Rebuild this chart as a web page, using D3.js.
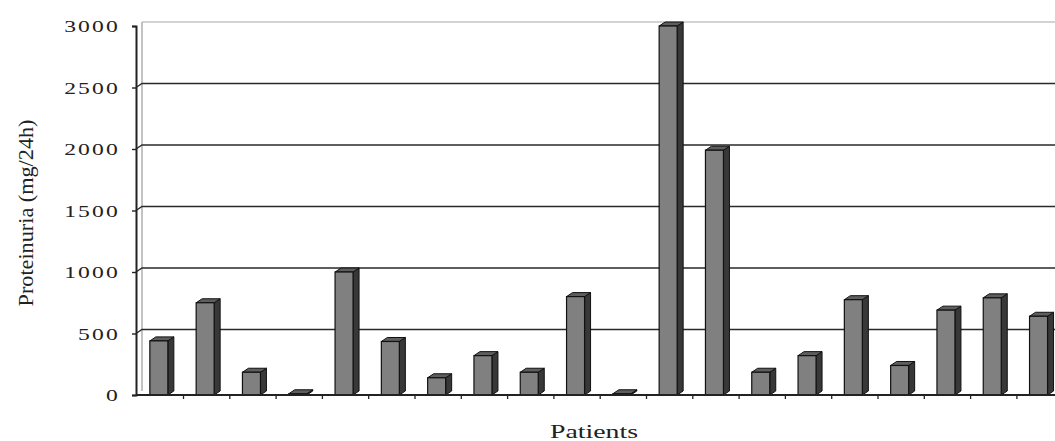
<!DOCTYPE html>
<html>
<head>
<meta charset="utf-8">
<script src="https://cdn.jsdelivr.net/npm/d3@7"></script>
<style>
  html, body { margin: 0; padding: 0; background: #fff; }
  svg { display: block; }
  text { font-family: "Liberation Serif", "Times New Roman", serif; fill: #222; }
</style>
</head>
<body>
<svg id="chart" width="1055" height="441"></svg>
<script>
// Proteinuria per patient (mg/24h)
const patients = ["P1","P2","P3","P4","P5","P6","P7","P8","P9","P10",
                  "P11","P12","P13","P14","P15","P16","P17","P18","P19","P20"];
const proteinuria = [440, 750, 185, 10, 1000, 435, 140, 320, 185, 800,
                     10, 3000, 1990, 185, 320, 775, 240, 690, 790, 640];
const yTicks = [0, 500, 1000, 1500, 2000, 2500, 3000];
const yTitle = "Proteinuria (mg/24h)";
const xTitle = "Patients";

const svg = d3.select("#chart");
const W = 1055;
const plotLeft = 136, plotBottom = 395, plotTop = 26;
const step = 46.3;
const depthX = 6, depthY = 4;   // oblique depth of the 3D look

const x = d3.scaleBand().domain(patients).range([plotLeft + 0.7, plotLeft + 0.7 + step * patients.length]).padding(0);
const xEdge = d3.scaleLinear().domain([0, patients.length]).range(x.range());
const y = d3.scaleLinear().domain([0, 3000]).range([plotBottom, plotTop]);

// back wall
const wall = svg.append("g");
wall.append("line")
  .attr("x1", plotLeft + depthX).attr("x2", plotLeft + depthX)
  .attr("y1", y(3000) - depthY).attr("y2", plotBottom - depthY)
  .attr("stroke", "#9a9a9a").attr("stroke-width", 1.2);
wall.append("line")
  .attr("x1", plotLeft + depthX).attr("x2", W)
  .attr("y1", y(3000) - depthY).attr("y2", y(3000) - depthY)
  .attr("stroke", "#a8a8a8").attr("stroke-width", 1.2);

// gridlines on the wall, with the short oblique segment back from the axis
const gridVals = yTicks.filter(v => v > 0 && v < 3000);
wall.selectAll("path.grid").data(gridVals).join("path")
  .attr("class", "grid")
  .attr("d", v => `M${plotLeft},${y(v)} L${plotLeft + depthX},${y(v) - depthY} L${W},${y(v) - depthY}`)
  .attr("fill", "none").attr("stroke", "#2a2a2a").attr("stroke-width", 1.4);

// y axis
const yAxis = svg.append("g")
  .attr("transform", `translate(${plotLeft},0)`)
  .call(d3.axisLeft(y).tickValues(yTicks).tickSize(4).tickFormat(d3.format("d")));
yAxis.select(".domain").attr("stroke", "#222").attr("stroke-width", 2);
yAxis.selectAll(".tick line").attr("stroke", "#222").attr("stroke-width", 1.4);
yAxis.selectAll(".tick text")
  .attr("x", 0).attr("dy", "0.34em")
  .attr("transform", "translate(-16,0) scale(1.35,1)")
  .style("font-size", "17.5px")
  .style("letter-spacing", "1.6px")
  .style("font-family", "'Liberation Serif', serif")
  .attr("fill", "#333");

// x axis: ticks between patients
const xAxis = svg.append("g")
  .attr("transform", `translate(0,${plotBottom})`)
  .call(d3.axisBottom(xEdge).tickValues(d3.range(1, patients.length)).tickSize(4).tickFormat(""));
xAxis.select(".domain").attr("d", `M${plotLeft},0H${W}`).attr("stroke", "#222").attr("stroke-width", 2);
xAxis.selectAll(".tick line").attr("stroke", "#222").attr("stroke-width", 1.3);

// 3D columns
const barW = 18;
const bars = svg.append("g").selectAll("g").data(patients.map((p, i) => ({ p, v: proteinuria[i] }))).join("g");
const fx = d => x(d.p) + x.bandwidth() / 2 - barW / 2 - 1;

bars.append("path") // side face
  .attr("d", d => {
    const x0 = fx(d) + barW, yt = y(d.v);
    return `M${x0},${yt} L${x0 + depthX},${yt - depthY} L${x0 + depthX},${plotBottom - depthY} L${x0},${plotBottom} Z`;
  })
  .attr("fill", "#383838").attr("stroke", "#111").attr("stroke-width", 1);
bars.append("path") // top face
  .attr("d", d => {
    const x0 = fx(d), yt = y(d.v);
    return `M${x0},${yt} L${x0 + depthX},${yt - depthY} L${x0 + barW + depthX},${yt - depthY} L${x0 + barW},${yt} Z`;
  })
  .attr("fill", "#5e5e5e").attr("stroke", "#111").attr("stroke-width", 1);
bars.append("rect") // front face
  .attr("x", d => fx(d)).attr("width", barW)
  .attr("y", d => y(d.v)).attr("height", d => plotBottom - y(d.v))
  .attr("fill", "#808080").attr("stroke", "#111").attr("stroke-width", 1.2);

// floor line drawn over the bar bases
svg.append("line").attr("x1", plotLeft).attr("x2", W).attr("y1", plotBottom).attr("y2", plotBottom)
  .attr("stroke", "#222").attr("stroke-width", 2);

// titles
svg.append("text")
  .attr("transform", "translate(33,213) rotate(-90)")
  .attr("text-anchor", "middle")
  .attr("textLength", 187).attr("lengthAdjust", "spacingAndGlyphs")
  .style("font-size", "21px")
  .text(yTitle);

svg.append("text")
  .attr("x", 594).attr("y", 438)
  .attr("text-anchor", "middle")
  .attr("textLength", 88).attr("lengthAdjust", "spacingAndGlyphs")
  .style("font-size", "19px")
  .text(xTitle);
</script>
</body>
</html>
